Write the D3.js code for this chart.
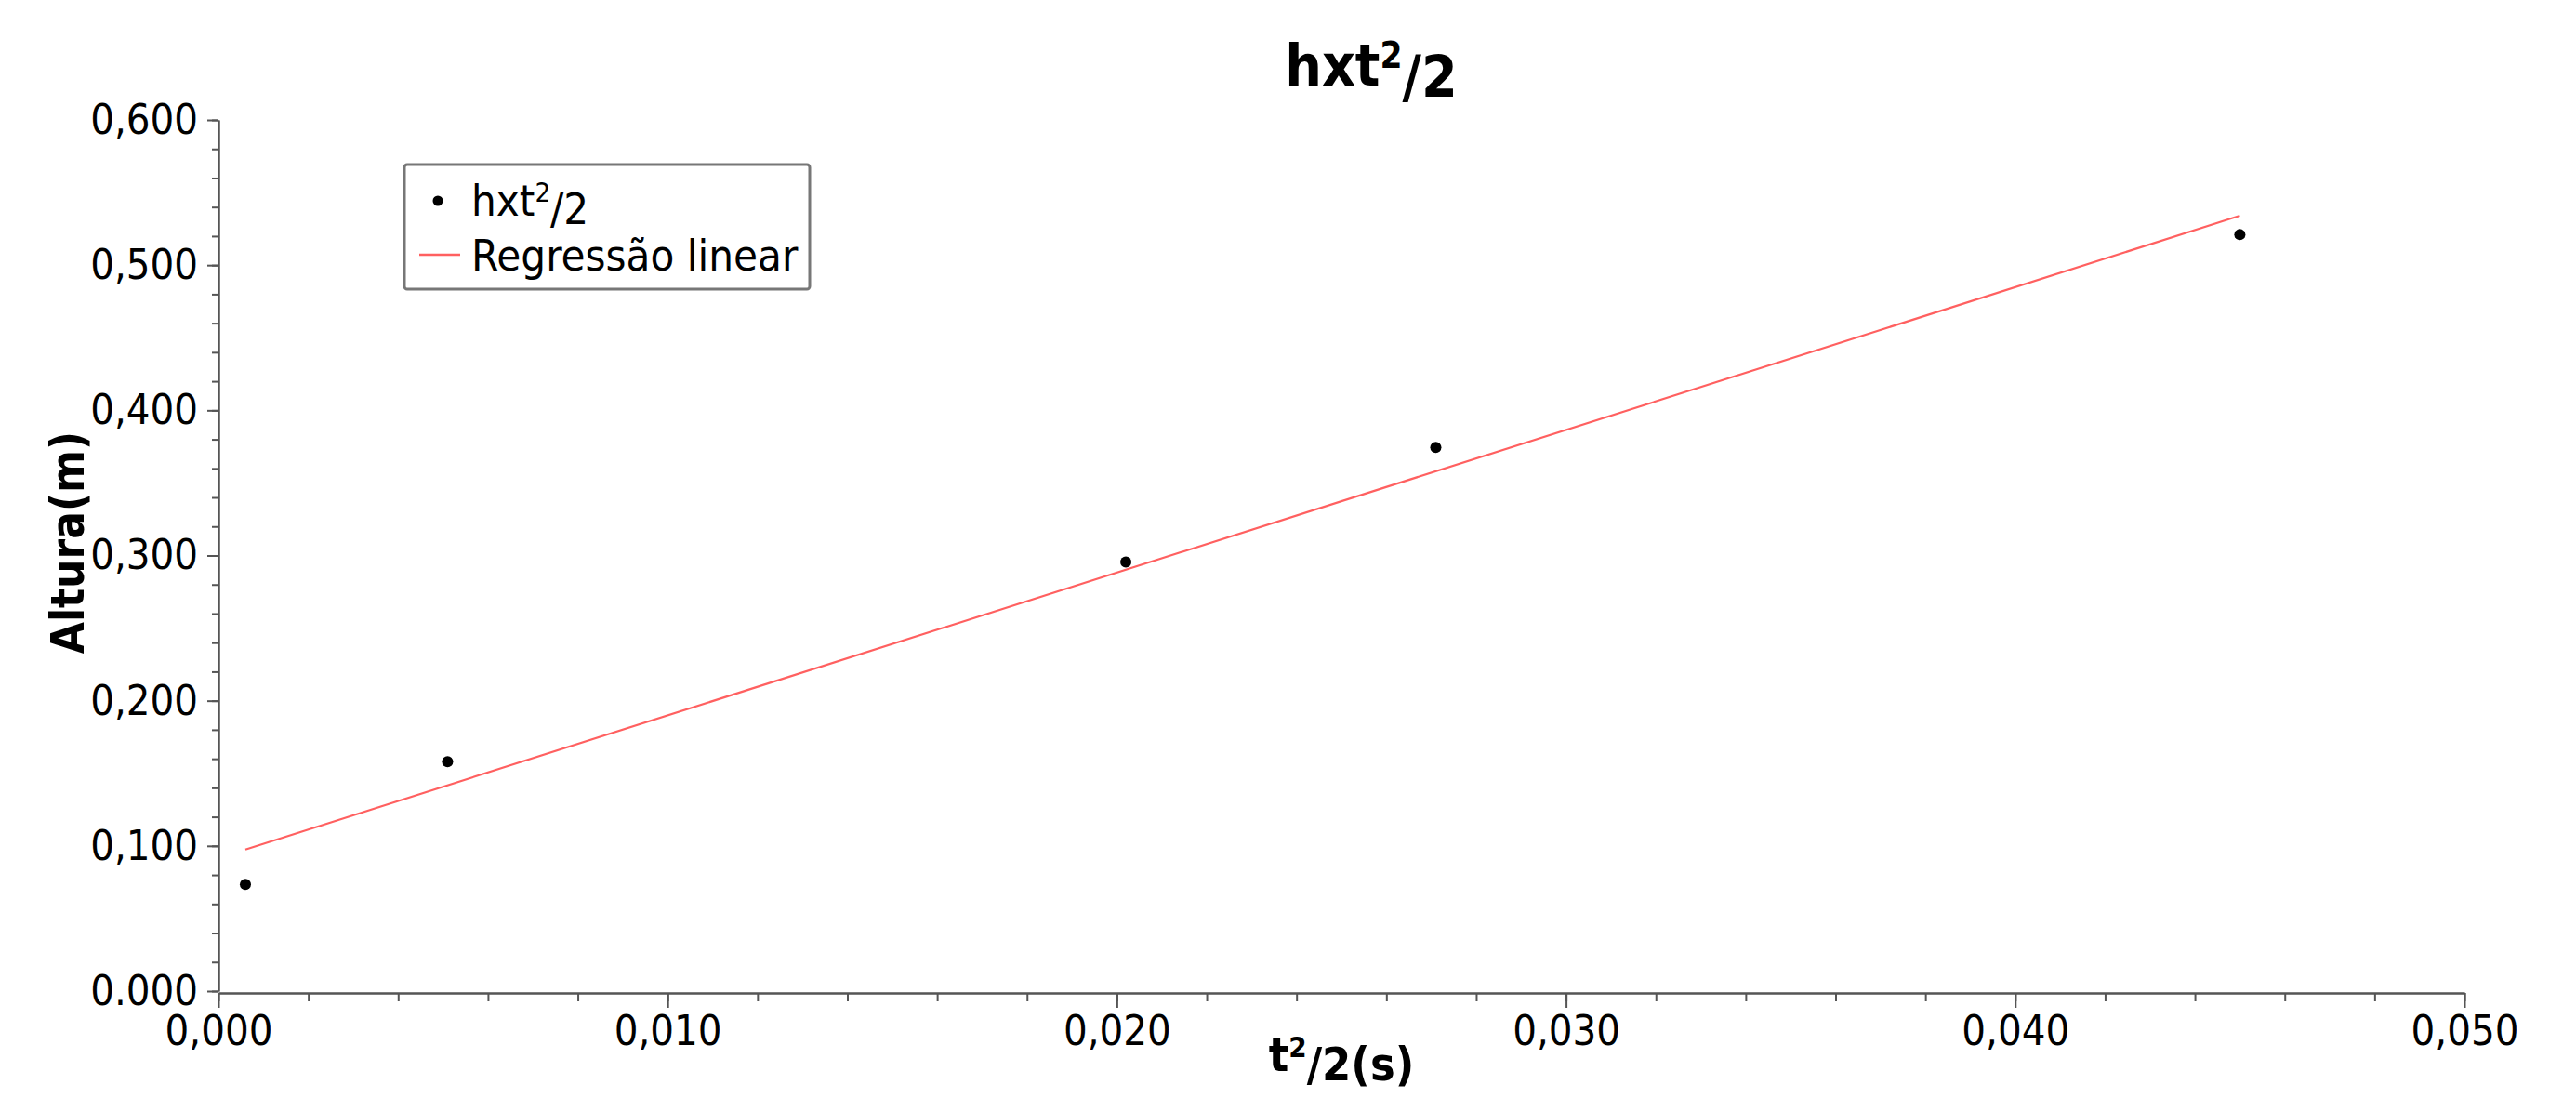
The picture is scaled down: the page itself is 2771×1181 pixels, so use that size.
<!DOCTYPE html>
<html>
<head>
<meta charset="utf-8">
<script src="https://cdn.jsdelivr.net/npm/d3@7"></script>
<style>
  body { margin: 0; background: #fff; }
  text { font-family: "DejaVu Sans Condensed", "DejaVu Sans", sans-serif; fill: #000; }
</style>
</head>
<body>
<div id="chart"></div>
<script>
// measured points (t^2/2, height)
const tValues = [0.0006, 0.0051, 0.0202, 0.0271, 0.0450];
const hValues = [0.0735, 0.1580, 0.2955, 0.3745, 0.5210];

// regression line ends
const fitX = [0.0006, 0.0450];
const fitY = [0.0975, 0.5340];

const xTicks = [0, 0.01, 0.02, 0.03, 0.04, 0.05];
const xTickLabels = ["0,000", "0,010", "0,020", "0,030", "0,040", "0,050"];
const yTicks = [0, 0.1, 0.2, 0.3, 0.4, 0.5, 0.6];
const yTickLabels = ["0.000", "0,100", "0,200", "0,300", "0,400", "0,500", "0,600"];

const legendLabels = ["hxt", "Regressão linear"];

const W = 2771, H = 1181;
const margin = { top: 129, right: 120, bottom: 115, left: 235 },
  width = W - margin.left - margin.right,
  height = H - margin.top - margin.bottom;

const svg = d3
  .select("#chart")
  .append("svg")
  .attr("width", W)
  .attr("height", H);

const g = svg
  .append("g")
  .attr("transform", `translate(${margin.left}, ${margin.top})`);

const x = d3.scaleLinear().domain([0, 0.05]).range([0, width]);
const y = d3.scaleLinear().domain([0, 0.6]).range([height, 0]);

const axisColor = "#555";

// x axis: minor then major
const xAxisG = g.append("g").attr("transform", `translate(0, ${height + 2})`);
xAxisG
  .append("g")
  .call(d3.axisBottom(x).tickValues(x.ticks(25)).tickSize(9).tickSizeOuter(0).tickFormat(""));
xAxisG
  .append("g")
  .call(
    d3.axisBottom(x)
      .tickValues(xTicks)
      .tickSize(16)
      .tickSizeOuter(0)
      .tickPadding(8)
      .tickFormat((d, i) => xTickLabels[i])
  );

// y axis
const yAxisG = g.append("g");
yAxisG
  .append("g")
  .call(d3.axisLeft(y).tickValues(y.ticks(30)).tickSize(7).tickSizeOuter(0).tickFormat(""));
yAxisG
  .append("g")
  .call(
    d3.axisLeft(y)
      .tickValues(yTicks)
      .tickSize(12)
      .tickSizeOuter(0)
      .tickPadding(10)
      .tickFormat((d, i) => yTickLabels[i])
  );

g.selectAll(".domain, .tick line")
  .attr("stroke", axisColor)
  .attr("stroke-width", 2);
g.selectAll(".tick text")
  .style("font-size", "45px")
  .attr("fill", "#000");

// regression line
const line = d3
  .line()
  .x((d, i) => x(fitX[i]))
  .y((d) => y(d));

g.append("path")
  .attr("d", line(fitY))
  .attr("fill", "none")
  .attr("stroke", "#ff6060")
  .attr("stroke-width", 2.2);

// points
g.append("g")
  .selectAll("circle")
  .data(tValues)
  .join("circle")
  .attr("cx", (d) => x(d))
  .attr("cy", (d, i) => y(hValues[i]))
  .attr("r", 6)
  .attr("fill", "#000");

// superscript helper
function supText(sel, before, sup, after) {
  sel.append("tspan").text(before);
  sel.append("tspan").attr("dy", "-0.5em").style("font-size", "0.62em").text(sup);
  sel.append("tspan").attr("dy", "0.5em").text(after);
}

// title
const title = svg
  .append("text")
  .attr("x", 1475)
  .attr("y", 92)
  .attr("text-anchor", "middle")
  .style("font-size", "62px")
  .style("font-weight", "bold");
supText(title, "hxt", "2", "/2");

// axis titles
const xTitle = svg
  .append("text")
  .attr("x", margin.left + width / 2)
  .attr("y", 1152)
  .attr("text-anchor", "middle")
  .style("font-size", "50px")
  .style("font-weight", "bold");
supText(xTitle, "t", "2", "/2(s)");

svg
  .append("text")
  .attr("transform", `translate(90, ${margin.top + height / 2 - 14}) rotate(-90)`)
  .attr("text-anchor", "middle")
  .style("font-size", "49px")
  .style("font-weight", "bold")
  .text("Altura(m)");

// legend
const legend = svg.append("g").attr("transform", "translate(435, 177)");
legend
  .append("rect")
  .attr("width", 436)
  .attr("height", 134)
  .attr("rx", 3)
  .attr("fill", "#fff")
  .attr("stroke", "#777")
  .attr("stroke-width", 3);

legend.append("circle").attr("cx", 36).attr("cy", 39).attr("r", 5.5).attr("fill", "#000");
const l1 = legend
  .append("text")
  .attr("x", 72)
  .attr("y", 55)
  .style("font-size", "47px");
supText(l1, legendLabels[0], "2", "/2");

legend
  .append("line")
  .attr("x1", 16)
  .attr("x2", 60)
  .attr("y1", 97)
  .attr("y2", 97)
  .attr("stroke", "#ff6060")
  .attr("stroke-width", 2.5);
legend
  .append("text")
  .attr("x", 72)
  .attr("y", 114)
  .style("font-size", "47px")
  .text(legendLabels[1]);
</script>
</body>
</html>
